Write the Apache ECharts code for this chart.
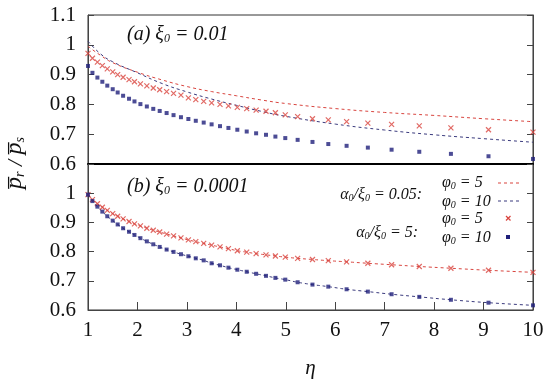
<!DOCTYPE html>
<html>
<head>
<meta charset="utf-8">
<script src="https://cdn.jsdelivr.net/npm/echarts@6/dist/echarts.min.js"></script>
<style>html,body{margin:0;padding:0;background:#fff;}#c{width:550px;height:380px;}</style>
</head>
<body>
<div id="c"></div>
<script>
// ---- data ----
var eta = [1, 1.09, 1.19, 1.29, 1.39, 1.5, 1.6, 1.71, 1.83, 1.94, 2.06, 2.19, 2.32, 2.45, 2.59, 2.73, 2.88, 3.03, 3.18, 3.34, 3.5, 3.67, 3.84, 4.02, 4.21, 4.4, 4.6, 4.79, 4.99, 5.24, 5.54, 5.86, 6.23, 6.66, 7.14, 7.7, 8.34, 9.1, 10];
// panel (a) xi0 = 0.01, alpha0/xi0 = 5 (markers)
var aMarkPhi5 = [0.971, 0.955, 0.942, 0.930, 0.919, 0.909, 0.900, 0.891, 0.883, 0.876, 0.869, 0.862, 0.855, 0.849, 0.843, 0.837, 0.831, 0.822, 0.816, 0.810, 0.805, 0.800, 0.795, 0.790, 0.786, 0.781, 0.777, 0.772, 0.765, 0.759, 0.752, 0.748, 0.742, 0.737, 0.733, 0.728, 0.721, 0.715, 0.707];
var aMarkPhi10 = [0.929, 0.906, 0.890, 0.876, 0.863, 0.851, 0.840, 0.829, 0.819, 0.810, 0.801, 0.793, 0.785, 0.778, 0.771, 0.764, 0.757, 0.751, 0.745, 0.739, 0.733, 0.727, 0.721, 0.715, 0.709, 0.703, 0.698, 0.692, 0.687, 0.681, 0.674, 0.667, 0.661, 0.655, 0.648, 0.641, 0.634, 0.626, 0.617];
// panel (a), alpha0/xi0 = 0.05 (dashed lines)
var etaLine = [1, 1.25, 1.5, 2, 2.5, 3, 3.5, 4, 4.5, 5, 6, 7, 8, 9, 10];
var aLinePhi5 = [0.995, 0.965, 0.940, 0.908, 0.882, 0.860, 0.843, 0.829, 0.815, 0.803, 0.786, 0.773, 0.763, 0.752, 0.742];
var aLinePhi10 = [1.012, 0.970, 0.943, 0.906, 0.870, 0.842, 0.818, 0.797, 0.777, 0.760, 0.734, 0.714, 0.698, 0.685, 0.673];
// panel (b) xi0 = 0.0001 (markers and dashed lines coincide)
var bPhi5 = [0.995, 0.978, 0.964, 0.952, 0.941, 0.930, 0.921, 0.912, 0.903, 0.895, 0.888, 0.880, 0.873, 0.867, 0.860, 0.854, 0.847, 0.840, 0.834, 0.828, 0.822, 0.816, 0.810, 0.803, 0.798, 0.793, 0.789, 0.785, 0.781, 0.777, 0.773, 0.769, 0.765, 0.760, 0.755, 0.749, 0.743, 0.736, 0.729];
var bPhi10 = [0.995, 0.973, 0.954, 0.937, 0.921, 0.906, 0.893, 0.880, 0.868, 0.857, 0.846, 0.835, 0.825, 0.816, 0.807, 0.799, 0.791, 0.784, 0.777, 0.770, 0.760, 0.753, 0.745, 0.738, 0.731, 0.724, 0.717, 0.710, 0.704, 0.695, 0.687, 0.680, 0.671, 0.663, 0.654, 0.645, 0.635, 0.625, 0.616];
var xTicks = [1, 2, 3, 4, 5, 6, 7, 8, 9, 10];

function pairs(xs, ys) { return xs.map(function (x, i) { return [x, ys[i]]; }); }

var RED = '#d9453f', BLUE = '#1f1f7a', DARK = '#3b3b7e', INK = '#111';
var SERIF = 'Liberation Serif';
var crossPath = 'path://M0,0L10,10M10,0L0,10';

var chart = echarts.init(document.getElementById('c'), null, {renderer: 'canvas'});

function yAx(grid, right, showLab) {
  return {
    gridIndex: grid, type: 'value', min: 0.6, max: 1.1, interval: 0.1,
    position: right ? 'right' : 'left',
    axisLine: {show: true, lineStyle: {color: '#444', width: 1}},
    axisTick: {show: true, inside: true, length: 6, lineStyle: {color: '#444'}},
    splitLine: {show: false},
    axisLabel: right ? {show: false} : {
      show: true, fontFamily: SERIF, fontSize: 21, color: INK, margin: 12,
      showMinLabel: true, showMaxLabel: true,
      formatter: function (v) {
        v = Math.round(v * 10) / 10;
        if (!showLab && v > 1.05) return '';
        return String(v);
      }
    }
  };
}

function rt(size, subSize) {
  return {
    t: {fontFamily: SERIF, fontSize: size, fontStyle: 'italic', fill: INK, lineHeight: size + 2, verticalAlign: 'bottom'},
    s: {fontFamily: SERIF, fontSize: subSize, fontStyle: 'italic', fill: INK, lineHeight: subSize - 2, verticalAlign: 'bottom'}
  };
}

var option = {
  backgroundColor: '#fff',
  animation: false,
  grid: [
    {left: 88, top: 15, width: 445, height: 149, show: true, borderColor: '#333', borderWidth: 1},
    {left: 88, top: 164, width: 445, height: 149, show: true, borderColor: '#333', borderWidth: 1}
  ],
  xAxis: [
    {gridIndex: 0, type: 'value', min: 1, max: 10, interval: 1,
     axisLabel: {show: false}, axisTick: {show: false}, splitLine: {show: false},
     axisLine: {show: true, lineStyle: {color: '#000', width: 2}}},
    {gridIndex: 1, type: 'value', min: 1, max: 10, interval: 1,
     splitLine: {show: false},
     axisLine: {show: true, lineStyle: {color: '#444'}},
     axisTick: {show: true, inside: true, length: 8, lineStyle: {color: '#444'}},
     axisLabel: {fontFamily: SERIF, fontSize: 21, color: INK, margin: 10,
       formatter: function (v) { return xTicks.indexOf(Math.round(v)) >= 0 ? String(Math.round(v)) : ''; }},
     name: 'η', nameLocation: 'middle', nameGap: 48,
     nameTextStyle: {fontFamily: SERIF, fontSize: 21, fontStyle: 'italic', color: INK}}
  ],
  yAxis: [yAx(0, false, true), yAx(0, true, true), yAx(1, false, false), yAx(1, true, false)],
  series: [
    {type: 'line', xAxisIndex: 0, yAxisIndex: 0, data: pairs(etaLine, aLinePhi5), smooth: true, showSymbol: false,
     lineStyle: {color: RED, width: 1, type: [3, 3]}, silent: true, z: 2},
    {type: 'line', xAxisIndex: 0, yAxisIndex: 0, data: pairs(etaLine, aLinePhi10), smooth: true, showSymbol: false,
     lineStyle: {color: DARK, width: 1, type: [3, 3]}, silent: true, z: 2},
    {type: 'scatter', xAxisIndex: 0, yAxisIndex: 0, data: pairs(eta, aMarkPhi5), symbol: crossPath, symbolSize: 5,
     itemStyle: {color: 'rgba(0,0,0,0)', borderColor: RED, borderWidth: 1.2}, z: 3},
    {type: 'scatter', xAxisIndex: 0, yAxisIndex: 0, data: pairs(eta, aMarkPhi10), symbol: 'rect', symbolSize: 4,
     itemStyle: {color: BLUE}, z: 3},
    {type: 'line', xAxisIndex: 1, yAxisIndex: 2, data: pairs(eta, bPhi5), smooth: true, showSymbol: false,
     lineStyle: {color: RED, width: 1, type: [3, 3]}, silent: true, z: 2},
    {type: 'line', xAxisIndex: 1, yAxisIndex: 2, data: pairs(eta, bPhi10), smooth: true, showSymbol: false,
     lineStyle: {color: DARK, width: 1, type: [3, 3]}, silent: true, z: 2},
    {type: 'scatter', xAxisIndex: 1, yAxisIndex: 2, data: pairs(eta, bPhi5), symbol: crossPath, symbolSize: 5,
     itemStyle: {color: 'rgba(0,0,0,0)', borderColor: RED, borderWidth: 1.2}, z: 3},
    {type: 'scatter', xAxisIndex: 1, yAxisIndex: 2, data: pairs(eta, bPhi10), symbol: 'rect', symbolSize: 4,
     itemStyle: {color: BLUE}, z: 3}
  ],
  graphic: [
    // y-axis title
    {type: 'text', x: 14, y: 163, rotation: Math.PI / 2,
     style: {text: '{p|p\u0305}{s|r}{n| / }{p|p\u0305}{s|s}', x: 0, y: 0, align: 'center', verticalAlign: 'middle',
       rich: {p: {fontFamily: SERIF, fontSize: 24, fontStyle: 'italic', fill: INK, lineHeight: 26, verticalAlign: 'bottom'},
              s: {fontFamily: SERIF, fontSize: 14, fontStyle: 'italic', fill: INK, lineHeight: 14, verticalAlign: 'bottom'},
              n: {fontFamily: SERIF, fontSize: 22, fontStyle: 'italic', fill: INK, lineHeight: 26, verticalAlign: 'bottom'}}}},
    // panel titles
    {type: 'text', x: 127, y: 34, style: {text: '{t|(a) ξ}{s|0}{t| = 0.01}', align: 'left', verticalAlign: 'middle', rich: rt(20, 12)}},
    {type: 'text', x: 127, y: 186, style: {text: '{t|(b) ξ}{s|0}{t| = 0.0001}', align: 'left', verticalAlign: 'middle', rich: rt(20, 12)}},
    // legend group labels
    {type: 'text', x: 422, y: 194, style: {text: '{t|α}{s|0}{t|/ξ}{s|0}{t| = 0.05:}', align: 'right', verticalAlign: 'middle', rich: rt(16, 10)}},
    {type: 'text', x: 418, y: 232, style: {text: '{t|α}{s|0}{t|/ξ}{s|0}{t| = 5:}', align: 'right', verticalAlign: 'middle', rich: rt(16, 10)}},
    // legend item labels
    {type: 'text', x: 442, y: 182, style: {text: '{t|φ}{s|0}{t| = 5}', align: 'left', verticalAlign: 'middle', rich: rt(16, 10)}},
    {type: 'text', x: 442, y: 201, style: {text: '{t|φ}{s|0}{t| = 10}', align: 'left', verticalAlign: 'middle', rich: rt(16, 10)}},
    {type: 'text', x: 442, y: 218, style: {text: '{t|φ}{s|0}{t| = 5}', align: 'left', verticalAlign: 'middle', rich: rt(16, 10)}},
    {type: 'text', x: 442, y: 237, style: {text: '{t|φ}{s|0}{t| = 10}', align: 'left', verticalAlign: 'middle', rich: rt(16, 10)}},
    // legend keys
    {type: 'line', shape: {x1: 498, y1: 183, x2: 519, y2: 183}, style: {stroke: RED, lineWidth: 1, lineDash: [3, 3]}},
    {type: 'line', shape: {x1: 498, y1: 201, x2: 519, y2: 201}, style: {stroke: DARK, lineWidth: 1, lineDash: [3, 3]}},
    {type: 'polyline', shape: {points: [[506, 216], [510.5, 220.5]]}, style: {stroke: RED, lineWidth: 1.2}},
    {type: 'polyline', shape: {points: [[510.5, 216], [506, 220.5]]}, style: {stroke: RED, lineWidth: 1.2}},
    {type: 'rect', shape: {x: 506, y: 235, width: 4, height: 4}, style: {fill: BLUE}}
  ]
};
chart.setOption(option);
</script>
</body>
</html>
